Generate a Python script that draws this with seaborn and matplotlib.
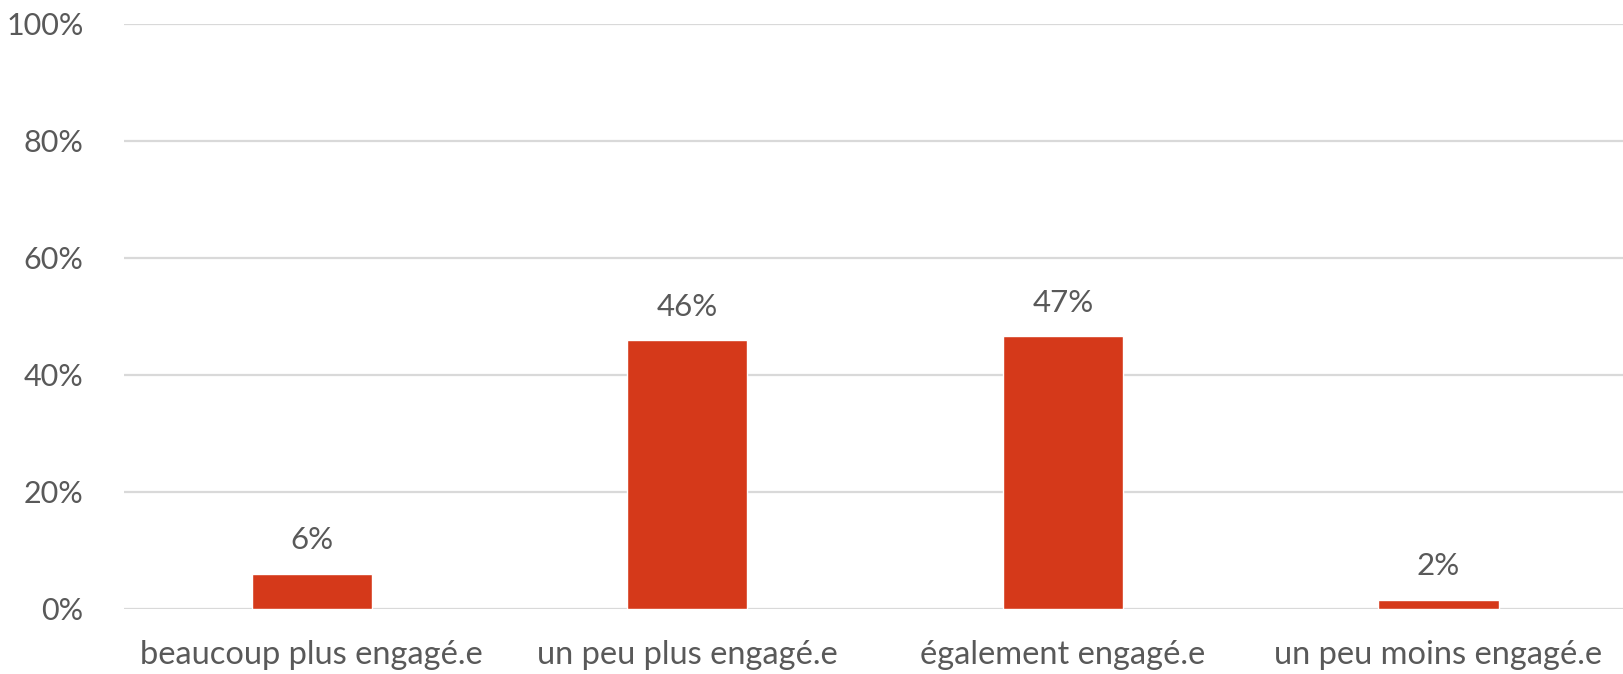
import matplotlib
matplotlib.use("Agg")
import matplotlib.pyplot as plt
import seaborn as sns
import pandas as pd

categories = ["beaucoup plus engagé.e", "un peu plus engagé.e", "également engagé.e", "un peu moins engagé.e"]
values = [6.0, 45.9, 46.6, 1.6]
yticks = [0, 20, 40, 60, 80, 100]
ytick_labels = ["0%", "20%", "40%", "60%", "80%", "100%"]

sns.set_theme(style="white")
plt.rcParams['font.family'] = ['Lato', 'DejaVu Sans']

df = pd.DataFrame({"cat": categories, "val": values})

fig = plt.figure(figsize=(16.23, 6.74), dpi=100)
ax = fig.add_axes([124/1623, 1 - 609/674, 1 - 124/1623 + 0.002, (609 - 24)/674])

sns.barplot(data=df, x="cat", y="val", color="#D5391A", width=0.32, saturation=1, ax=ax, zorder=3)

ax.set_ylim(0, 100)
ax.set_yticks(yticks)
ax.set_yticklabels(ytick_labels)
ax.yaxis.grid(True, color="#D9D9D9", linewidth=1.6, zorder=0)
ax.set_axisbelow(True)
for s in ax.spines.values():
    s.set_visible(False)
ax.set_xlabel("")
ax.set_ylabel("")
ax.tick_params(axis="y", length=0, pad=29, labelsize=22, labelcolor="#595959")
ax.tick_params(axis="x", length=0, pad=22, labelsize=23.5, labelcolor="#595959")

for p, v in zip(ax.patches, values):
    ax.annotate(f"{v:.0f}%", (p.get_x() + p.get_width() / 2, p.get_height()),
                xytext=(0, 14), textcoords="offset points", ha="center", va="bottom",
                fontsize=22.5, color="#595959")

fig.savefig("out.png", dpi=100)
